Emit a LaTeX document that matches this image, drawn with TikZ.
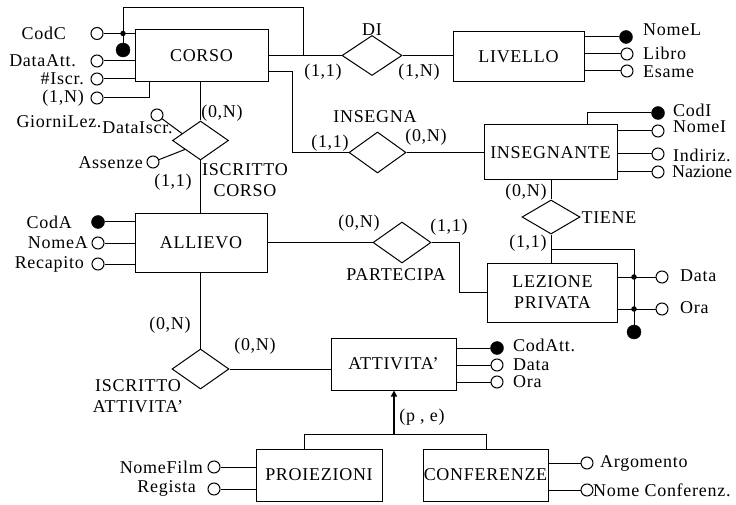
\documentclass[tikz,border=0pt]{standalone}
\usepackage{fontspec}
\setmainfont[LetterSpace=4]{Liberation Serif}
\usetikzlibrary{shapes.geometric,calc,arrows.meta}
\begin{document}
\begin{tikzpicture}[x=1pt,y=-1pt,
  every node/.style={font=\fontsize{18}{21}\selectfont},
  ent/.style={draw,line width=1pt,inner sep=0pt,align=center},
  rel/.style={draw,diamond,line width=1pt,inner sep=0pt},
  lbl/.style={inner sep=0pt},
  att/.style={draw,circle,fill=white,minimum size=12pt,inner sep=0pt,line width=1pt},
  key/.style={draw,circle,fill=black,minimum size=13pt,inner sep=0pt},
  jdot/.style={circle,fill=black,minimum size=5.5pt,inner sep=0pt},
  conn/.style={line width=1pt},
]
\useasboundingbox (0,0) rectangle (736,505);
% entities
\node[ent,minimum width=133pt,minimum height=52pt] (corso) at (201.5,55.5) {CORSO};
\node[ent,minimum width=131pt,minimum height=50pt] (livello) at (518.5,57) {LIVELLO};
\node[ent,minimum width=133pt,minimum height=55pt] (insegnante) at (550.5,152.5) {INSEGNANTE};
\node[ent,minimum width=132pt,minimum height=58pt] (allievo) at (201,243) {ALLIEVO};
\node[ent,minimum width=130pt,minimum height=59pt] (lezione) at (552.5,292.5) {LEZIONE\\PRIVATA};
\node[ent,minimum width=125pt,minimum height=52pt] (attivita) at (393.5,364) {ATTIVITA’};
\node[ent,minimum width=126pt,minimum height=52pt] (proiezioni) at (319,475) {PROIEZIONI};
\node[ent,minimum width=125pt,minimum height=52pt] (conferenze) at (485.5,475) {CONFERENZE};
% relationships
\node[rel,minimum width=60pt,minimum height=40pt] (di) at (372,55.5) {};
\node[rel,minimum width=56pt,minimum height=39pt] (iscrc) at (200.5,140.5) {};
\node[rel,minimum width=57pt,minimum height=41pt] (insegna) at (377.5,152.5) {};
\node[rel,minimum width=58pt,minimum height=34pt] (tiene) at (551,217) {};
\node[rel,minimum width=58pt,minimum height=41pt] (partecipa) at (402,242.5) {};
\node[rel,minimum width=57pt,minimum height=40pt] (iscra) at (200.5,369) {};
% connectors
\draw[conn] (corso.east) -- (di.west);
\draw[conn] (di.east) -- (di.east -| livello.west);
\draw[conn] ([yshift=-16.5pt]corso.east) -- ++(24,0) |- (insegna.west);
\draw[conn] (insegna.east) -- (insegna.east -| insegnante.west);
\draw[conn] (iscrc.north) -- (iscrc.north |- corso.south);
\draw[conn] (iscrc.south) -- (iscrc.south |- allievo.north);
\draw[conn] (allievo.east |- partecipa.west) -- (partecipa.west);
\draw[conn] (partecipa.east) -- ++(28,0) |- (lezione.west);
\draw[conn] (tiene.north) -- (tiene.north |- insegnante.south);
\draw[conn] (tiene.south) -- (tiene.south |- lezione.north);
\draw[conn] (iscra.north) -- (iscra.north |- allievo.south);
\draw[conn] (iscra.east) -- (iscra.east -| attivita.west);
% CORSO identifier
\coordinate (ctop) at (303,8);
\node[key,minimum size=14pt] (corsoid) at (123,50) {};
\draw[conn] (corsoid.center) |- (ctop) -- (ctop |- corso.east);
% CORSO attributes
\node[att] (codc) at (97,33.5) {};
\node[att] (dataatt) at (97,61) {};
\node[att] (iscr) at (97,79) {};
\node[att] (giorni) at (97,98) {};
\draw[conn] (codc) -- (codc -| corso.west);
\draw[conn] (dataatt) -- (dataatt -| corso.west);
\draw[conn] (iscr) -- (iscr -| corso.west);
\draw[conn] (giorni.east) -| ([xshift=15pt]corso.south west);
\node[jdot] (cj) at (123,33.5) {};
% ISCRITTO CORSO attributes
\node[att] (dis) at (157,115) {};
\node[att] (ass) at (153,162) {};
\draw[conn] (dis) -- ($(iscrc.west)!0.35!(iscrc.north)$);
\draw[conn] (ass) -- ($(iscrc.west)!0.45!(iscrc.south)$);
% LIVELLO attributes
\node[key] (nomel) at (626,37) {};
\node[att] (libro) at (627,54) {};
\node[att] (esame) at (627,71) {};
\draw[conn] (nomel) -- (nomel -| livello.east);
\draw[conn] (libro) -- (libro -| livello.east);
\draw[conn] (esame) -- (esame -| livello.east);
% INSEGNANTE attributes
\node[key] (codi) at (658,113) {};
\node[att] (nomei) at (658,131) {};
\node[att] (indiriz) at (658,154) {};
\node[att] (nazione) at (658,172) {};
\draw[conn] (codi) -| ([xshift=36.5pt]insegnante.north);
\draw[conn] (nomei) -- (nomei -| insegnante.east);
\draw[conn] (indiriz) -- (indiriz -| insegnante.east);
\draw[conn] (nazione) -- (nazione -| insegnante.east);
% ALLIEVO attributes
\node[key] (coda) at (98,222) {};
\node[att] (nomea) at (98,243) {};
\node[att] (recapito) at (98,264) {};
\draw[conn] (coda) -- (coda -| allievo.west);
\draw[conn] (nomea) -- (nomea -| allievo.west);
\draw[conn] (recapito) -- (recapito -| allievo.west);
% LEZIONE PRIVATA identifier and attributes
\coordinate (lzj) at (551,249);
\node[key,minimum size=14pt] (lzid) at (634,332) {};
\draw[conn] (lzj) -| (lzid.center);
\node[att] (lzdata) at (662,277) {};
\node[att] (lzora) at (662,309) {};
\draw[conn] (lzdata) -- (lzdata -| lezione.east);
\draw[conn] (lzora) -- (lzora -| lezione.east);
\node[jdot] (lzd1) at (634,277) {};
\node[jdot] (lzd2) at (634,309) {};
% ATTIVITA attributes
\node[key] (codatt) at (497,348) {};
\node[att] (adata) at (497,365) {};
\node[att] (aora) at (497,382) {};
\draw[conn] (codatt) -- (codatt -| attivita.east);
\draw[conn] (adata) -- (adata -| attivita.east);
\draw[conn] (aora) -- (aora -| attivita.east);
% generalization
\coordinate (gl) at (304,434);
\coordinate (gr) at (486,434);
\coordinate (isa) at (394,434);
\draw[conn] (gl |- proiezioni.north) -- (gl) -- (gr) -- (gr |- conferenze.north);
\draw[line width=2pt,-{Triangle[length=6pt,width=6pt]}] (isa) -- (isa |- attivita.south);
% PROIEZIONI / CONFERENZE attributes
\node[att] (nomefilm) at (214,467) {};
\node[att] (regista) at (214,489) {};
\draw[conn] (nomefilm) -- (nomefilm -| proiezioni.west);
\draw[conn] (regista) -- (regista -| proiezioni.west);
\node[att] (argomento) at (587,463) {};
\node[att] (nomeconf) at (587,490) {};
\draw[conn] (argomento) -- (argomento -| conferenze.east);
\draw[conn] (nomeconf) -- (nomeconf -| conferenze.east);
% labels
\node[lbl,anchor=east] (tcodc) at (66,33) {CodC};
\node[lbl,anchor=east] (tdataatt) at (76,61) {DataAtt.};
\node[lbl,anchor=east] (tiscr) at (84,79) {\#Iscr.};
\node[lbl,anchor=east] (tgn) at (84,98) {(1,N)};
\node[lbl] (tgiorni) at (59,122) {GiorniLez.};
\node[lbl] (tdis) at (137.5,128) {DataIscr.};
\node[lbl,anchor=east] (tass) at (143,163) {Assenze};
\node[lbl] (c1) at (222,113) {(0,N)};
\node[lbl] (c2) at (173,182) {(1,1)};
\node[lbl,align=center] (tiscrc) at (245,180) {ISCRITTO\\CORSO};
\node[lbl] (tdi) at (372,30) {DI};
\node[lbl] (c3) at (323,72) {(1,1)};
\node[lbl] (c4) at (419,72) {(1,N)};
\node[lbl,anchor=west] (tnomel) at (643,30) {NomeL};
\node[lbl,anchor=west] (tlibro) at (643,53) {Libro};
\node[lbl,anchor=west] (tesame) at (643,72) {Esame};
\node[lbl] (tinsegna) at (375,117) {INSEGNA};
\node[lbl] (c5) at (330,143) {(1,1)};
\node[lbl] (c6) at (426,137) {(0,N)};
\node[lbl,anchor=west] (tcodi) at (673,110) {CodI};
\node[lbl,anchor=west] (tnomei) at (673,127) {NomeI};
\node[lbl,anchor=west] (tindiriz) at (673,155) {Indiriz.};
\node[lbl,anchor=west] (tnazione) at (672,172) {\addfontfeature{LetterSpace=0}Nazione};
\node[lbl] (c7) at (526,192) {(0,N)};
\node[lbl] (ttiene) at (609,218) {TIENE};
\node[lbl] (c8) at (528,243) {(1,1)};
\node[lbl,anchor=east] (tcoda) at (72,222) {CodA};
\node[lbl,anchor=east] (tnomea) at (88,243) {NomeA};
\node[lbl,anchor=east] (trecapito) at (84,264) {Recapito};
\node[lbl] (c9) at (359,223) {(0,N)};
\node[lbl] (c10) at (449,227) {(1,1)};
\node[lbl] (tpartecipa) at (396,275) {PARTECIPA};
\node[lbl,anchor=west] (tlzdata) at (680,276) {Data};
\node[lbl,anchor=west] (tlzora) at (680,308) {Ora};
\node[lbl] (c11) at (170,325) {(0,N)};
\node[lbl] (c12) at (255,346) {(0,N)};
\node[lbl,align=center] (tiscra) at (138,396) {ISCRITTO\\ATTIVITA’};
\node[lbl,anchor=west] (tcodatt) at (513,345) {CodAtt.};
\node[lbl,anchor=west] (tadata) at (513,365) {Data};
\node[lbl,anchor=west] (taora) at (513,382) {Ora};
\node[lbl] (tpe) at (422,417) {(p , e)};
\node[lbl,anchor=east] (tnomefilm) at (203,467) {NomeFilm};
\node[lbl,anchor=east] (tregista) at (196,488) {Regista};
\node[lbl,anchor=west] (targomento) at (600,463) {Argomento};
\node[lbl,anchor=west] (tnomeconf) at (593,490) {Nome Conferenz.};
\end{tikzpicture}
\end{document}
